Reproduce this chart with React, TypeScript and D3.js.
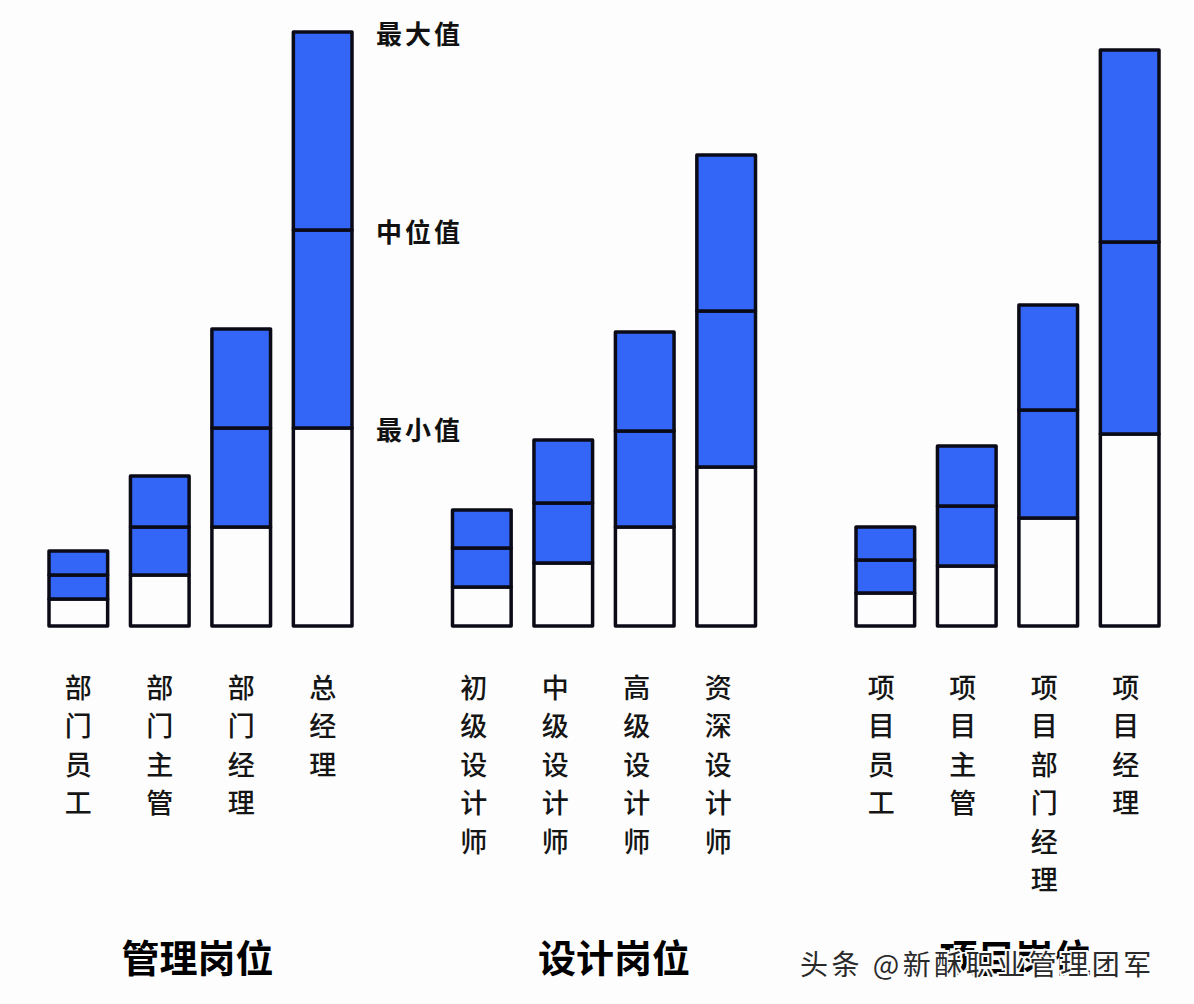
import React from "react";
import * as d3 from "d3";

const groups = ["管理岗位", "设计岗位", "项目岗位"];
const categories = [
  ["部门员工", "部门主管", "部门经理", "总经理"],
  ["初级设计师", "中级设计师", "高级设计师", "资深设计师"],
  ["项目员工", "项目主管", "项目部门经理", "项目经理"],
];
const minValues = [
  [27, 51, 99, 198],
  [39, 63, 99, 159],
  [33, 60, 108, 192],
];
const medianValues = [
  [51, 99, 198, 396],
  [78, 123, 195, 315],
  [66, 120, 216, 384],
];
const maxValues = [
  [75, 150, 297, 594],
  [116, 186, 294, 471],
  [99, 180, 321, 576],
];
const levelLabels = ["最大值", "中位值", "最小值"];
const watermark = "头条 @新酥职业管理团军";

const W = 1194;
const H = 1004;
const BLUE = "#3366F7";
const STROKE = "#0b0b18";

export default function App() {
  const y = d3.scaleLinear().domain([0, 600]).range([626, 26]);
  const outer = d3
    .scaleBand<number>()
    .domain([0, 1, 2])
    .range([49, 49 + 3 * 403.5])
    .paddingInner(0)
    .paddingOuter(0);
  const inner = d3
    .scaleBand<number>()
    .domain([0, 1, 2, 3])
    .range([0, 303])
    .paddingInner(0.28)
    .paddingOuter(0);
  const bw = inner.bandwidth();
  const cjk = "'Noto Sans CJK SC', 'Noto Sans', sans-serif";

  const refX = (outer(0) as number) + (inner(3) as number) + bw + 24;
  const refVals = [maxValues[0][3], medianValues[0][3], minValues[0][3]];

  return (
    <svg
      width={W}
      height={H}
      style={{ position: "absolute", left: 0, top: 0, background: "#fdfdfd" }}
    >
      <rect x={0} y={0} width={W} height={H} fill="#fdfdfd" />
      {groups.map((g, gi) => {
        const gx = outer(gi) as number;
        return (
          <g key={g}>
            {categories[gi].map((c, ci) => {
              const x = gx + (inner(ci) as number);
              const mn = minValues[gi][ci];
              const md = medianValues[gi][ci];
              const mx = maxValues[gi][ci];
              const cx = x + bw / 2 - (gi === 1 ? 8 : gi === 2 ? 4 : 0);
              return (
                <g key={c}>
                  <rect
                    x={x}
                    y={y(mn)}
                    width={bw}
                    height={y(0) - y(mn)}
                    fill="#fdfdfd"
                    stroke={STROKE}
                    strokeWidth={3.5}
                    strokeLinejoin="round"
                  />
                  <rect
                    x={x}
                    y={y(md)}
                    width={bw}
                    height={y(mn) - y(md)}
                    fill={BLUE}
                    stroke={STROKE}
                    strokeWidth={3.5}
                    strokeLinejoin="round"
                  />
                  <rect
                    x={x}
                    y={y(mx)}
                    width={bw}
                    height={y(md) - y(mx)}
                    fill={BLUE}
                    stroke={STROKE}
                    strokeWidth={3.5}
                    strokeLinejoin="round"
                  />
                  {Array.from(c).map((ch, k) => (
                    <text
                      key={k}
                      x={cx}
                      y={686 + k * 38.5}
                      textAnchor="middle"
                      dominantBaseline="central"
                      fontFamily={cjk}
                      fontSize={27}
                      fontWeight={500}
                      fill="#151515"
                    >
                      {ch}
                    </text>
                  ))}
                </g>
              );
            })}
            <text
              x={gx + 303 / 2 + (gi === 1 ? 10 : gi === 2 ? 8 : -3)}
              y={955}
              textAnchor="middle"
              dominantBaseline="central"
              fontFamily={cjk}
              fontSize={38}
              fontWeight={700}
              fill="#000"
            >
              {g}
            </text>
          </g>
        );
      })}
      {levelLabels.map((l, i) => (
        <text
          key={l}
          x={refX}
          y={y(refVals[i])}
          dominantBaseline="central"
          fontFamily={cjk}
          fontSize={26}
          fontWeight={700}
          letterSpacing={3}
          fill="#111"
        >
          {l}
        </text>
      ))}
      <text
        x={800}
        y={963}
        dominantBaseline="central"
        fontFamily={cjk}
        fontSize={28}
        letterSpacing={3.5}
        fill="#2a2a2a"
        stroke="#fdfdfd"
        strokeWidth={4}
        style={{ paintOrder: "stroke" } as any}
      >
        {watermark}
      </text>
    </svg>
  );
}
